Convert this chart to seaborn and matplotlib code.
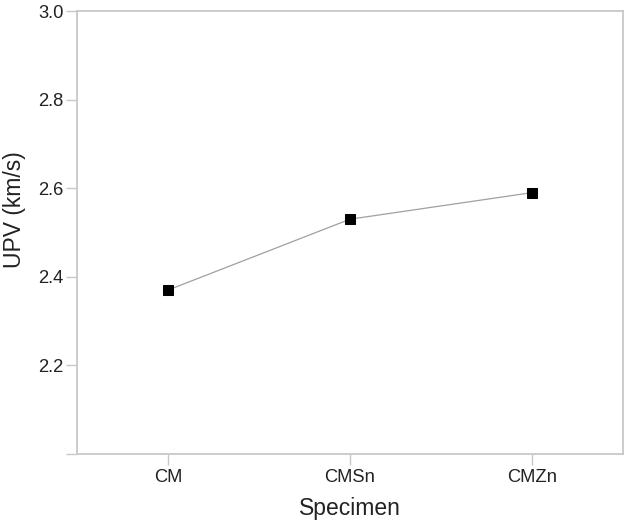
import matplotlib
matplotlib.use("Agg")
import matplotlib.pyplot as plt
import seaborn as sns
import pandas as pd

specimens = ["CM", "CMSn", "CMZn"]
upv = [2.37, 2.53, 2.59]
yticks = [2.0, 2.2, 2.4, 2.6, 2.8, 3.0]
yticklabels = ["", "2.2", "2.4", "2.6", "2.8", "3.0"]

sns.set_style("white")
plt.rcParams["font.family"] = ["Liberation Sans", "DejaVu Sans"]

df = pd.DataFrame({"Specimen": specimens, "UPV": upv})

fig = plt.figure(figsize=(6.25, 5.22), dpi=100)
ax = fig.add_axes([0.1232, 0.1303, 0.8736, 0.8486])

sns.lineplot(data=df, x="Specimen", y="UPV", ax=ax, color="#a0a0a0", linewidth=0.9,
             marker="s", markersize=7, markerfacecolor="black", markeredgecolor="black",
             sort=False)

ax.set_xlim(-0.5, 2.5)
ax.set_ylim(2.0, 3.0)
ax.set_yticks(yticks)
ax.set_yticklabels(yticklabels)
ax.set_xticks(range(len(specimens)))
ax.set_xticklabels(specimens)

for s in ax.spines.values():
    s.set_visible(True)
    s.set_color("#c8c8c8")
    s.set_linewidth(1.3)

ax.tick_params(axis="both", which="both", direction="out", length=8, width=1.0,
               color="#c8c8c8", labelsize=13.2, labelcolor="#222222",
               left=True, bottom=True)
ax.tick_params(axis="y", pad=1.5)
ax.tick_params(axis="x", pad=3)

ax.set_xlabel("Specimen", fontsize=16.5, color="#222222")
ax.set_ylabel("UPV (km/s)", fontsize=16.5, color="#222222")
ax.xaxis.set_label_coords(0.5, -0.097)
ax.yaxis.set_label_coords(-0.093, 0.551)

fig.savefig("out.png", dpi=100)
